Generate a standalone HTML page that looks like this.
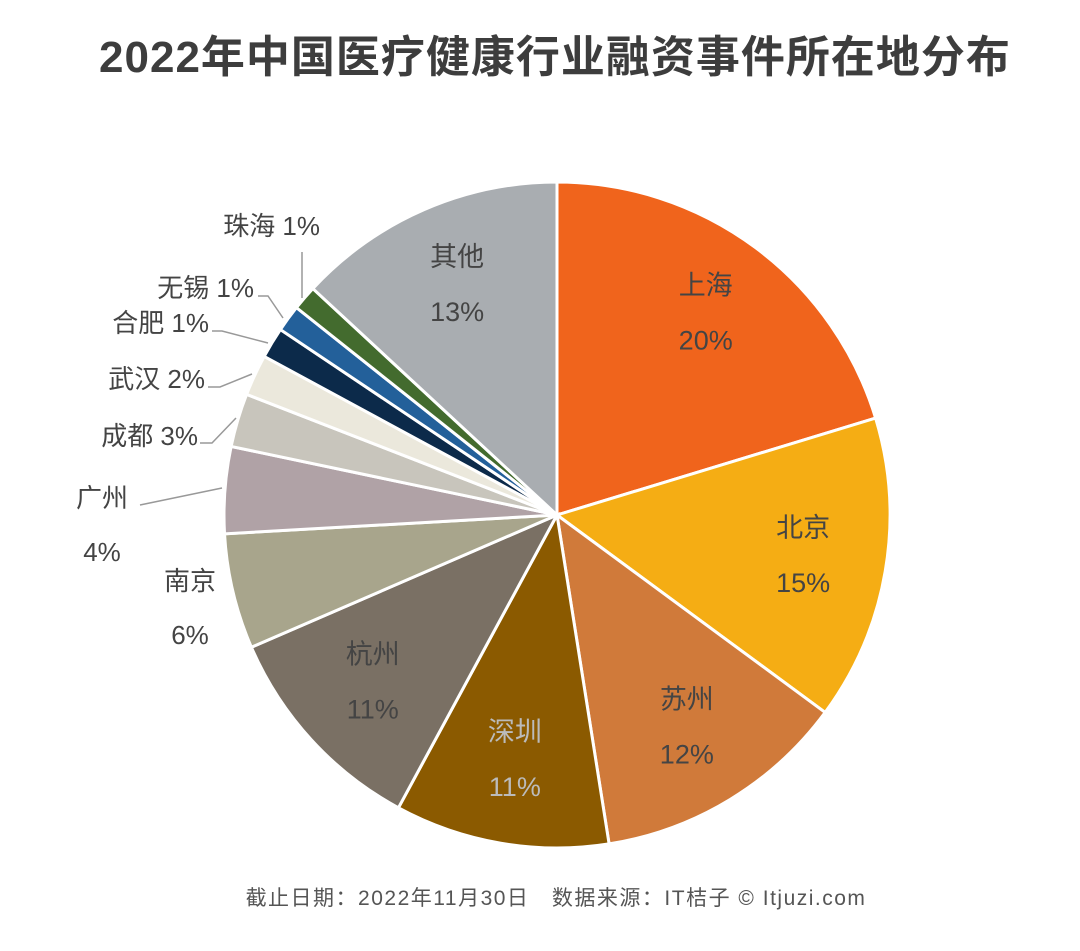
<!DOCTYPE html>
<html><head><meta charset="utf-8"><style>
html,body{margin:0;padding:0;background:#fff;}
svg text{font-family:"Liberation Sans","Noto Sans CJK SC",sans-serif;}
</style></head><body>
<svg width="1080" height="946" viewBox="0 0 1080 946">
<text x="555" y="72" text-anchor="middle" font-size="44" font-weight="bold" fill="#3d3d3d" letter-spacing="1">2022年中国医疗健康行业融资事件所在地分布</text>
<g id="slices"></g>
<g id="labels"></g>
<g stroke="#999" stroke-width="1.5" fill="none">
<polyline points="302,252 302,298"/>
<polyline points="258,296 268,296 283,318"/>
<polyline points="212,331 222,331 268,343"/>
<polyline points="208,387 220,387 252,374"/>
<polyline points="200,443 212,443 236,418"/>
<polyline points="140,505 222,488"/>
</g>
<g font-size="26" fill="#444">
<text x="320" y="235" text-anchor="end">珠海 1%</text>
<text x="254" y="297" text-anchor="end">无锡 1%</text>
<text x="209" y="332" text-anchor="end">合肥 1%</text>
<text x="205" y="388" text-anchor="end">武汉 2%</text>
<text x="198" y="445" text-anchor="end">成都 3%</text>
<text x="102" y="507" text-anchor="middle">广州</text>
<text x="102" y="561" text-anchor="middle">4%</text>
<text x="190" y="590" text-anchor="middle">南京</text>
<text x="190" y="644" text-anchor="middle">6%</text>
</g>
<text x="556" y="905" text-anchor="middle" font-size="21" fill="#555" letter-spacing="1.5">截止日期：2022年11月30日　数据来源：IT桔子 © Itjuzi.com</text>
</svg>
<script>
const categories=["上海","北京","苏州","深圳","杭州","南京","广州","成都","武汉","合肥","无锡","珠海","其他"];
const values=[20.3,14.8,12.4,10.4,10.6,5.6,4.2,2.6,2.0,1.5,1.3,1.2,13.1];
const pctLabels=["20%","15%","12%","11%","11%","6%","4%","3%","2%","1%","1%","1%","13%"];
const colors=["#f0641c","#f5ad14","#d07a3a","#8b5a00","#7a7064","#a8a58c","#b0a2a6","#c8c5bc","#ebe8dc","#0c2a4a","#23609a","#436b2e","#a9adb1"];
const inside=[true,true,true,true,true,false,false,false,false,false,false,false,true];
const labelColors=["#444","#444","#444","#bbb","#444","#444","#444","#444","#444","#444","#444","#444","#444"];
const cx=557,cy=515,R=333,NS="http://www.w3.org/2000/svg";
const total=values.reduce((a,b)=>a+b,0);
function pt(frac,r){const a=frac*2*Math.PI;return [cx+r*Math.sin(a),cy-r*Math.cos(a)];}
const gs=document.getElementById('slices'),gl=document.getElementById('labels');
let cum=0;
values.forEach((v,i)=>{
  const s=cum/total,e=(cum+v)/total;cum+=v;
  const [x1,y1]=pt(s,R),[x2,y2]=pt(e,R);
  const p=document.createElementNS(NS,'path');
  p.setAttribute('d',`M${cx},${cy} L${x1},${y1} A${R},${R} 0 ${e-s>0.5?1:0} 1 ${x2},${y2} Z`);
  p.setAttribute('fill',colors[i]);p.setAttribute('stroke','#fff');p.setAttribute('stroke-width','3');
  
  
  gs.appendChild(p);
  if(inside[i]){
    const [lx,ly]=pt((s+e)/2,R*0.75);
    [[categories[i],-20],[pctLabels[i],35]].forEach(([t,dy])=>{
      const tx=document.createElementNS(NS,'text');
      tx.setAttribute('x',lx);tx.setAttribute('y',ly+dy);
      tx.setAttribute('text-anchor','middle');tx.setAttribute('font-size','27');
      tx.setAttribute('fill',labelColors[i]);tx.textContent=t;
      
      
      gl.appendChild(tx);
    });
  }
});
</script>
</body></html>
